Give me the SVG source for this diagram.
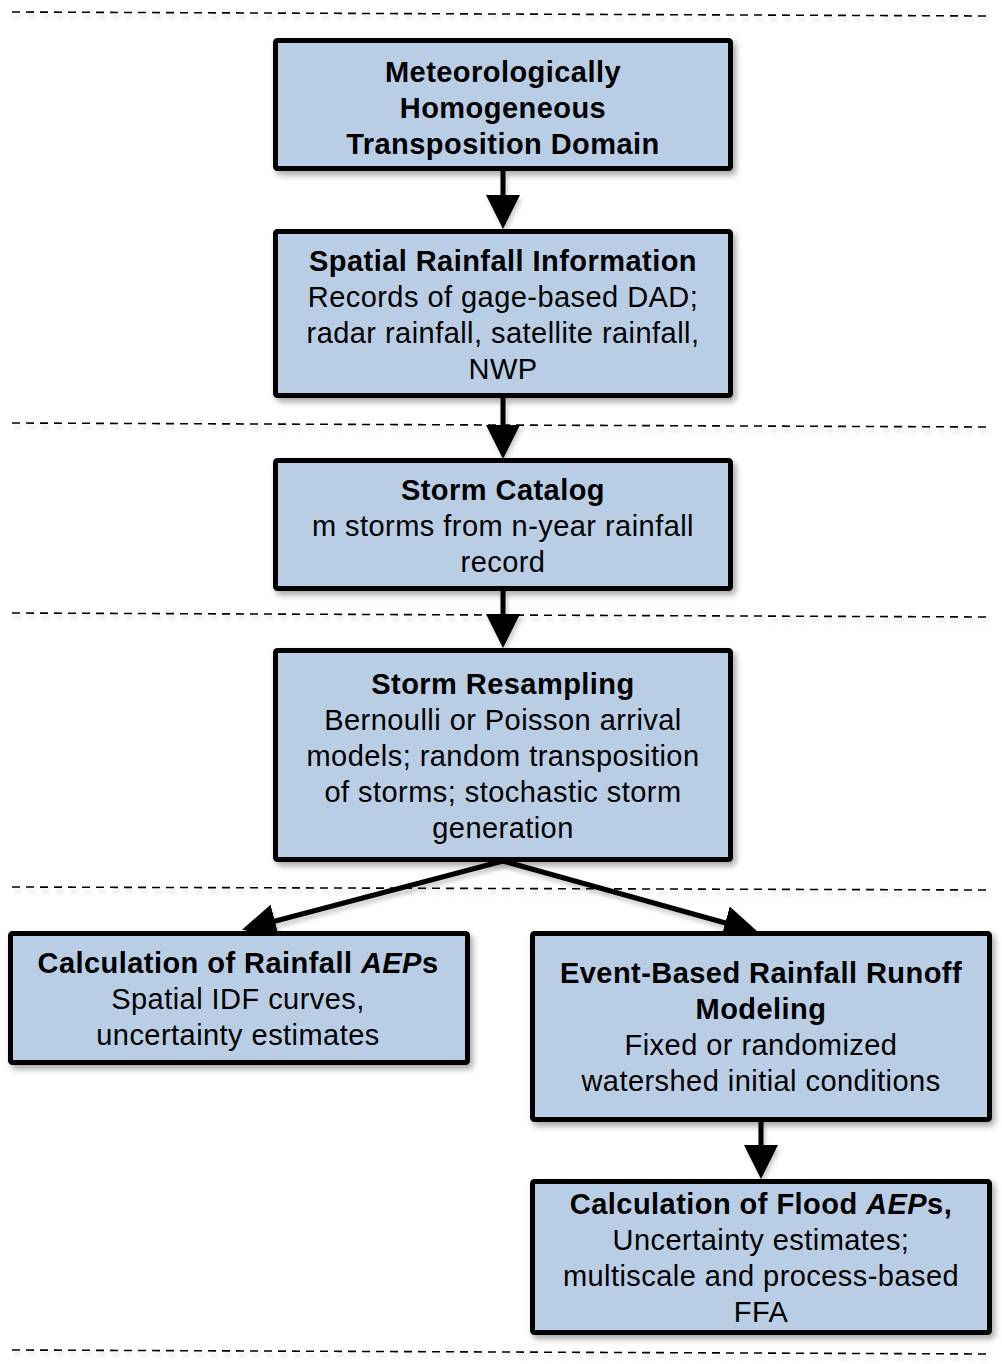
<svg xmlns="http://www.w3.org/2000/svg" width="1002" height="1364" viewBox="0 0 1002 1364">
<style>
.box{fill:#B9CDE5;stroke:#000;stroke-width:5;filter:url(#sh)}
.dash{stroke:#000;stroke-width:1.6;stroke-dasharray:8 6;fill:none;filter:url(#sh2)}
.con{stroke:#000;stroke-width:5;fill:none;marker-end:url(#ah);filter:url(#sh2)}
text{font-family:"Liberation Sans",Arial,Helvetica,sans-serif;font-size:29px;letter-spacing:0.45px;fill:#000;text-anchor:middle}
.b{font-weight:bold}
.i{font-style:italic}
</style>
<defs>
<filter id="sh" x="-10%" y="-10%" width="130%" height="140%">
<feDropShadow dx="3" dy="4" stdDeviation="3" flood-color="#000" flood-opacity="0.35"/>
</filter>
<filter id="sh2" filterUnits="userSpaceOnUse" x="0" y="0" width="1002" height="1364">
<feDropShadow dx="2" dy="4" stdDeviation="2" flood-color="#000" flood-opacity="0.2"/>
</filter>
<marker id="ah" markerUnits="userSpaceOnUse" markerWidth="34" markerHeight="34" viewBox="0 0 34 34" refX="19" refY="17" orient="auto">
<path d="M0,0 L34,17 L0,34 z" fill="#000"/>
</marker>
</defs>
<g id="separators">
<line class="dash" x1="12" y1="12" x2="988" y2="16"/>
<line class="dash" x1="12" y1="423" x2="988" y2="427"/>
<line class="dash" x1="12" y1="613" x2="988" y2="617"/>
<line class="dash" x1="12" y1="887" x2="988" y2="890"/>
<line class="dash" x1="12" y1="1350" x2="988" y2="1354"/>
</g>
<g id="connectors">
<line class="con" x1="503" y1="171" x2="503" y2="214"/>
<line class="con" x1="503" y1="398" x2="503" y2="444"/>
<line class="con" x1="503" y1="591" x2="503" y2="633"/>
<line class="con" x1="503" y1="861" x2="256.5" y2="926"/>
<line class="con" x1="503" y1="861" x2="743.5" y2="928"/>
<line class="con" x1="761" y1="1121" x2="761" y2="1164"/>
</g>
<g id="n1">
<rect class="box" x="275.5" y="40.5" width="455" height="128" rx="2"/>
<text class="b" x="503" y="82">Meteorologically</text>
<text class="b" x="503" y="118">Homogeneous</text>
<text class="b" x="503" y="154">Transposition Domain</text>
</g>
<g id="n2">
<rect class="box" x="275.5" y="231.5" width="455" height="164" rx="2"/>
<text class="b" x="503" y="271">Spatial Rainfall Information</text>
<text x="503" y="307">Records of gage-based DAD;</text>
<text x="503" y="343">radar rainfall, satellite rainfall,</text>
<text x="503" y="379">NWP</text>
</g>
<g id="n3">
<rect class="box" x="275.5" y="460.5" width="455" height="128" rx="2"/>
<text class="b" x="503" y="500">Storm Catalog</text>
<text x="503" y="536">m storms from n-year rainfall</text>
<text x="503" y="572">record</text>
</g>
<g id="n4">
<rect class="box" x="275.5" y="650.5" width="455" height="209" rx="2"/>
<text class="b" x="503" y="694">Storm Resampling</text>
<text x="503" y="730">Bernoulli or Poisson arrival</text>
<text x="503" y="766">models; random transposition</text>
<text x="503" y="802">of storms; stochastic storm</text>
<text x="503" y="838">generation</text>
</g>
<g id="n5">
<rect class="box" x="10.5" y="933.5" width="457" height="129" rx="2"/>
<text class="b" x="238" y="973">Calculation of Rainfall <tspan class="i">AEP</tspan>s</text>
<text x="238" y="1009">Spatial IDF curves,</text>
<text x="238" y="1045">uncertainty estimates</text>
</g>
<g id="n6">
<rect class="box" x="532.5" y="933.5" width="457" height="186" rx="2"/>
<text class="b" x="761" y="983">Event-Based Rainfall Runoff</text>
<text class="b" x="761" y="1019">Modeling</text>
<text x="761" y="1055">Fixed or randomized</text>
<text x="761" y="1091">watershed initial conditions</text>
</g>
<g id="n7">
<rect class="box" x="532.5" y="1181.5" width="457" height="151" rx="2"/>
<text class="b" x="761" y="1214">Calculation of Flood <tspan class="i">AEP</tspan>s,</text>
<text x="761" y="1250">Uncertainty estimates;</text>
<text x="761" y="1286">multiscale and process-based</text>
<text x="761" y="1322">FFA</text>
</g>
</svg>
